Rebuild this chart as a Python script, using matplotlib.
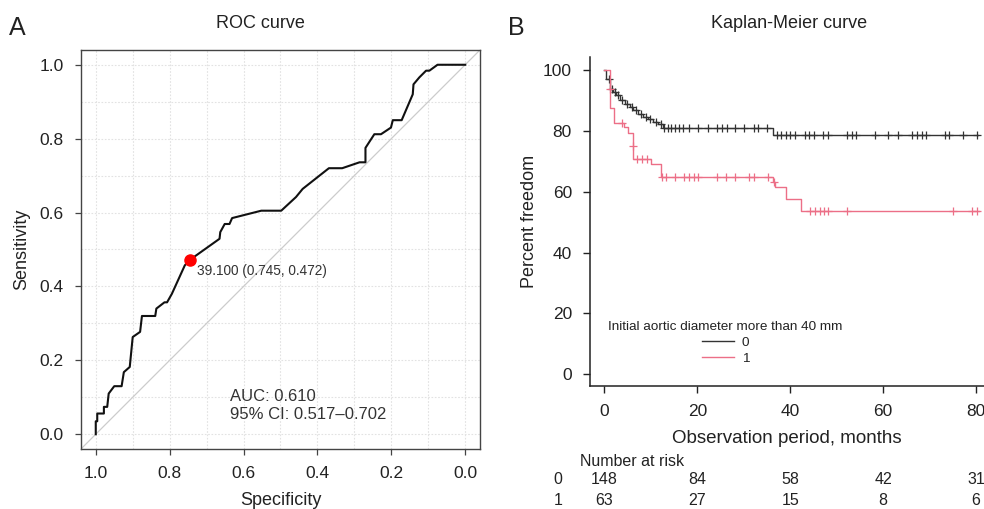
import numpy as np
import matplotlib
matplotlib.use("Agg")
import matplotlib.pyplot as plt

plt.rcParams['font.family'] = ['Liberation Sans', 'DejaVu Sans']
plt.rcParams['text.color'] = '#222222'
plt.rcParams['axes.labelcolor'] = '#222222'
plt.rcParams['xtick.color'] = '#222222'
plt.rcParams['ytick.color'] = '#222222'

# ROC curve data (specificity, sensitivity)
roc_spec = [1.0, 1.0, 0.996, 0.996, 0.978, 0.978, 0.969, 0.965, 0.95, 0.93, 0.924,
            0.908, 0.90, 0.88, 0.875, 0.839, 0.836, 0.814, 0.807, 0.794, 0.759,
            0.745, 0.665, 0.663, 0.651, 0.638, 0.631, 0.552, 0.498, 0.458, 0.44,
            0.369, 0.333, 0.286, 0.27, 0.27, 0.246, 0.228, 0.201, 0.196, 0.172,
            0.142, 0.14, 0.124, 0.106, 0.097, 0.075, 0.0]
roc_sens = [0.0, 0.035, 0.035, 0.056, 0.056, 0.074, 0.074, 0.11, 0.13, 0.13, 0.168,
            0.182, 0.263, 0.277, 0.32, 0.32, 0.34, 0.357, 0.357, 0.38, 0.457,
            0.472, 0.529, 0.547, 0.569, 0.569, 0.585, 0.605, 0.605, 0.642, 0.664,
            0.72, 0.72, 0.736, 0.736, 0.775, 0.812, 0.812, 0.83, 0.85, 0.85,
            0.92, 0.947, 0.966, 0.984, 0.984, 1.0, 1.0]
best_spec, best_sens, best_thr = 0.745, 0.472, 39.100
auc_text = "AUC: 0.610\n95% CI: 0.517\u20130.702"

# Kaplan-Meier data
g0_times = [0, 0.3, 1.3, 1.9, 2.6, 3.3, 4.4, 5.5, 6.2, 7.3, 8.3, 9.4, 10.5, 11.6, 12.6, 36.3]
g0_surv = [100, 97.3, 94.0, 92.9, 91.8, 90.1, 89.0, 87.9, 86.8, 85.7, 84.6, 83.9, 83.0, 82.4, 81.1, 78.7]
g0_end = 80.4
g0_cens = [1.0, 1.6, 2.3, 3.0, 3.8, 4.9, 5.9, 6.7, 7.8, 8.9, 9.9, 11.0, 12.1, 12.9, 13.6,
           14.4, 15.2, 16.1, 17.0, 18.1, 20.2, 22.2, 24.3, 25.3, 26.3, 28.1, 30.1, 32.1,
           33.1, 35.1, 37.2, 38.1, 39.0, 40.0, 41.1, 43.2, 44.1, 45.1, 47.1, 48.1, 52.2,
           53.2, 54.2, 58.2, 61.1, 63.2, 66.3, 67.3, 68.3, 69.3, 73.2, 74.1, 77.2, 80.2]

g1_times = [0, 1.1, 1.3, 2.1, 4.2, 5.0, 6.1, 6.2, 10.1, 12.2, 36.3, 36.7, 39.1, 42.3]
g1_surv = [100, 94.0, 87.6, 82.7, 81.3, 79.3, 75.1, 70.9, 69.3, 65.0, 63.4, 61.5, 57.7, 53.8]
g1_end = 80.7
g1_cens = [1.1, 3.8, 6.1, 7.0, 8.0, 9.1, 12.5, 13.2, 15.1, 17.1, 18.1, 19.2, 20.1, 24.2,
           26.2, 28.1, 31.2, 32.2, 35.2, 36.5, 44.3, 45.4, 46.3, 47.3, 48.2, 52.2, 75.1,
           79.1, 80.2]

risk_times = [0, 20, 40, 60, 80]
risk_g0 = [148, 84, 58, 42, 31]
risk_g1 = [63, 27, 15, 8, 6]

col0 = '#333333'
col1 = '#EC6F87'

fig = plt.figure(figsize=(9.84, 5.09), dpi=100)

# ---------- Panel A: ROC ----------
ax1 = fig.add_axes([0.0823, 0.1179, 0.4055, 0.7839])
ax1.set_xlim(1.04, -0.04)
ax1.set_ylim(-0.04, 1.04)
for v in np.arange(0, 1.01, 0.1):
    ax1.axvline(v, color='#e2e2e2', lw=0.8, ls=(0, (1.5, 1.5)), zorder=0)
    ax1.axhline(v, color='#e2e2e2', lw=0.8, ls=(0, (1.5, 1.5)), zorder=0)
ax1.axline((1, 0), (0, 1), color='#cccccc', lw=0.9, zorder=1)
ax1.plot(roc_spec, roc_sens, color='#111111', lw=1.5, zorder=3)
ax1.plot([best_spec], [best_sens], 'o', color='#ff0000', ms=8, zorder=4)
ax1.annotate(f"{best_thr:.3f} ({best_spec:.3f}, {best_sens:.3f})",
             (best_spec, best_sens), xytext=(5, -8), textcoords='offset points',
             ha='left', va='center', fontsize=9.8, color='#333333')
ax1.text(0.638, 0.078, auc_text, ha='left', va='center', fontsize=12,
         linespacing=1.25, color='#333333')
ax1.set_xticks([1.0, 0.8, 0.6, 0.4, 0.2, 0.0])
ax1.set_xticklabels(['1.0', '0.8', '0.6', '0.4', '0.2', '0.0'])
ax1.set_yticks([0.0, 0.2, 0.4, 0.6, 0.8, 1.0])
ax1.set_yticklabels(['0.0', '0.2', '0.4', '0.6', '0.8', '1.0'])
ax1.tick_params(labelsize=12.5, length=4.5, width=0.9, pad=8, color='#444444')
for s in ax1.spines.values():
    s.set_color('#444444')
    s.set_linewidth(1.0)
ax1.set_xlabel('Specificity', fontsize=13)
ax1.xaxis.set_label_coords(0.5, -0.108)
ax1.set_ylabel('Sensitivity', fontsize=13)
ax1.yaxis.set_label_coords(-0.128, 0.5)
ax1.set_title('ROC curve', fontsize=13, x=0.449, y=1.054, pad=0)
fig.text(0.0095, 1 - 35 / 509, 'A', fontsize=18, va='baseline')

# ---------- Panel B: Kaplan-Meier ----------
ax2 = fig.add_axes([0.5996, 0.2417, 0.4004, 0.6463])
ax2.set_xlim(-3.1, 81.7)
ax2.set_ylim(-3.85, 104.4)


def km_draw(ax, times, surv, end, cens, color):
    t = list(times) + [end]
    s = list(surv) + [surv[-1]]
    ax.step(t, s, where='post', color=color, lw=1.0)
    idx = np.searchsorted(times, cens, side='right') - 1
    cy = np.asarray(surv)[idx]
    ax.plot(cens, cy, '+', color=color, ms=6, mew=0.9, ls='none')


km_draw(ax2, g0_times, g0_surv, g0_end, g0_cens, col0)
km_draw(ax2, g1_times, g1_surv, g1_end, g1_cens, col1)

ax2.spines['top'].set_visible(False)
ax2.spines['right'].set_visible(False)
for s in ['left', 'bottom']:
    ax2.spines[s].set_color('#222222')
    ax2.spines[s].set_linewidth(1.1)
ax2.set_xticks(risk_times)
ax2.set_yticks([0, 20, 40, 60, 80, 100])
ax2.tick_params(labelsize=12.5, length=5, width=1.0, pad=8)
ax2.set_xlabel('Observation period, months', fontsize=13.5)
ax2.xaxis.set_label_coords(0.5, -0.135)
ax2.set_ylabel('Percent freedom', fontsize=13)
ax2.yaxis.set_label_coords(-0.133, 0.5)
ax2.set_title('Kaplan-Meier curve', fontsize=13, x=0.505, y=1.087, pad=0)
fig.text(0.516, 1 - 35 / 509, 'B', fontsize=18, va='baseline')

leg = ax2.legend(handles=[plt.Line2D([], [], color=col0, lw=1.0),
                          plt.Line2D([], [], color=col1, lw=1.0)],
                 labels=['0', '1'], title='Initial aortic diameter more than 40 mm',
                 frameon=False, fontsize=9.7, title_fontsize=9.7, loc='upper center',
                 bbox_to_anchor=(0.344, 0.218), borderpad=0, labelspacing=0.25,
                 handlelength=2.4, handletextpad=0.6)

# number at risk table
ax2.text(-0.0254, -0.231, 'Number at risk', transform=ax2.transAxes,
         fontsize=11.5, ha='left', va='center')
tr = ax2.get_xaxis_transform()
for row, (lab, vals) in enumerate([('0', risk_g0), ('1', risk_g1)]):
    yy = -0.2857 - row * 0.063
    ax2.text(-0.082, yy, lab, transform=ax2.transAxes, fontsize=11.5,
             ha='center', va='center')
    for t, v in zip(risk_times, vals):
        ax2.text(t, yy, str(v), transform=tr, fontsize=11.5, ha='center',
                 va='center', clip_on=False)

fig.savefig('out.png', dpi=100)
